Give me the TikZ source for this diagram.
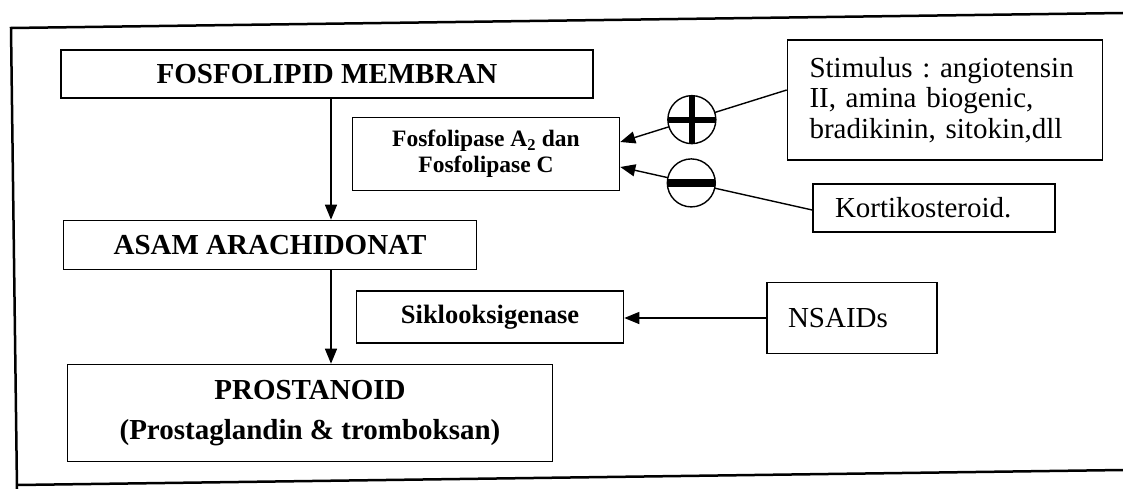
\documentclass[tikz,border=0pt]{standalone}
\usepackage{fontspec}
\setmainfont{Liberation Serif}
\usetikzlibrary{arrows.meta}
\frenchspacing

\tikzset{
  box/.style={draw, line width=1.6pt, inner sep=0pt, align=center},
  big/.style={font=\bfseries\fontsize{29}{40}\selectfont},
  plain/.style={font=\fontsize{29}{30.5}\selectfont, align=left},
  arr/.style={line width=1.4pt, -{Triangle[length=15pt,width=12pt]}},
  sign/.style={circle, draw, fill=white, line width=1.4pt, minimum size=48pt, inner sep=0pt},
  plussign/.style={sign, path picture={
      \fill[black] ([xshift=-3pt]path picture bounding box.north) rectangle ([xshift=3pt]path picture bounding box.south);
      \fill[black] ([yshift=-3pt]path picture bounding box.west) rectangle ([yshift=3pt]path picture bounding box.east);}},
  minussign/.style={sign, path picture={
      \fill[black] ([yshift=-4pt]path picture bounding box.west) rectangle ([yshift=4pt]path picture bounding box.east);}},
}

\begin{document}
\begin{tikzpicture}[x=1pt, y=-1pt]
  \useasboundingbox (0,0) rectangle (1123,489);
  % outer frame (open on the right)
  \draw[line width=2.5pt] (1123,13) -- (11,28) -- (17,489);
  \draw[line width=2.5pt] (17,485) -- (1123,470);
  % main chain
  \node[box, big, minimum width=532pt, minimum height=48pt] (mem) at (327,74) {FOSFOLIPID MEMBRAN};
  \node[box, big, minimum width=413pt, minimum height=49pt] (asam) at (270,245) {ASAM ARACHIDONAT};
  \node[box, big, minimum width=485pt, minimum height=97pt] (pros) at (310,413)
    {PROSTANOID\\(Prostaglandin \& tromboksan)};
  \coordinate (stem) at (331,0);
  \draw[arr] (stem |- mem.south) -- (stem |- asam.north);
  \draw[arr] (stem |- asam.south) -- (stem |- pros.north);
  % enzymes
  \node[box, font=\bfseries\fontsize{23.5}{26}\selectfont, minimum width=267pt, minimum height=73pt] (fos) at (486,154)
    {Fosfolipase A\textsubscript{2} dan\\Fosfolipase C};
  \node[box, font=\bfseries\fontsize{26.5}{30}\selectfont, minimum width=267pt, minimum height=52pt] (sik) at (490,317)
    {Siklooksigenase};
  % modulators
  \node[box, plain, minimum width=315pt, minimum height=120pt, text width=271pt] (stim) at (945,100)
    {Stimulus : angiotensin\\II, amina biogenic,\\bradikinin, sitokin,dll};
  \node[box, plain, minimum width=242pt, minimum height=48pt, text width=198pt] (kort) at (934,208) {Kortikosteroid.};
  \node[box, plain, minimum width=170pt, minimum height=71pt, text width=128pt] (nsaid) at (852,318) {NSAIDs};
  \draw[arr] ([yshift=10pt]stim.west) -- node[plussign, pos=0.57] (plus) {} ([yshift=12pt]fos.east);
  \draw[arr] ([yshift=-2pt]kort.west) -- node[minussign, pos=0.63] (minus) {} ([yshift=-13pt]fos.east);
  \draw[arr] (nsaid.west) -- (sik.east |- nsaid.west);
\end{tikzpicture}
\end{document}
